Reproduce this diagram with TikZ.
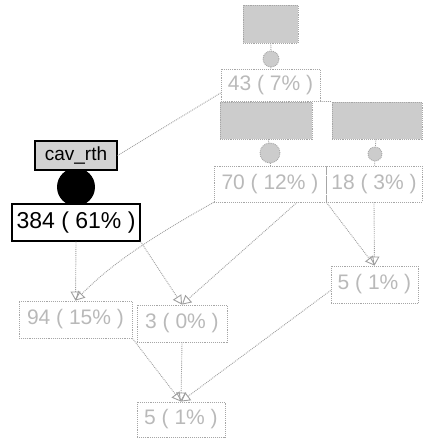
\documentclass[tikz,border=0pt]{standalone}
\usepackage{fontspec}
\setmainfont{Liberation Sans}
\usetikzlibrary{arrows.meta}
\begin{document}
\begin{tikzpicture}[x=1pt,y=-1pt,
  fbox/.style={rectangle, draw=gray!70, densely dotted, line width=0.9pt, inner sep=0pt, text=gray!55, font=\fontsize{21}{23}\selectfont},
  gbox/.style={rectangle, draw=gray!70, densely dotted, line width=0.9pt, fill=gray!40, inner sep=0pt},
  fcirc/.style={circle, draw=gray!70, densely dotted, line width=0.9pt, fill=gray!40, inner sep=0pt},
  fedge/.style={draw=gray!75, densely dotted, line width=0.9pt},
  farr/.style={fedge, -{Triangle[open, length=9pt, width=10pt]}},
  hbox/.style={rectangle, draw=black, line width=1.2pt, inner sep=0pt, text=black},
]
\useasboundingbox (0,0) rectangle (426,440);
% faded upper part
\node[gbox, minimum width=55pt, minimum height=38pt] (T) at (270.5,24) {};
\node[fcirc, minimum size=16pt] (e0) at (271,59) {};
\node[fbox, minimum width=99pt, minimum height=32pt] (B43) at (270.5,85) {43 ( 7\% )};
\node[gbox, minimum width=92pt, minimum height=37pt] (GL) at (266,120.5) {};
\node[gbox, minimum width=90pt, minimum height=37pt] (GR) at (377,120.5) {};
\node[fcirc, minimum size=20pt] (e1) at (270,153) {};
\node[fcirc, minimum size=14pt] (e2) at (375,154) {};
\node[fbox, minimum width=112pt, minimum height=36pt] (B70) at (270,184) {70 ( 12\% )};
\node[fbox, minimum width=96pt, minimum height=36pt] (B18) at (374,184) {18 ( 3\% )};
% highlighted path
\node[circle, fill=black, minimum size=38pt, inner sep=0pt] (blob) at (76,187) {};
\node[hbox, fill=gray!35, minimum width=82pt, minimum height=29pt, font=\fontsize{19}{21}\selectfont] (cav) at (76,155.5) {cav\_rth};
\node[hbox, fill=white, minimum width=128pt, minimum height=37pt, font=\fontsize{23}{25}\selectfont] (B384) at (76,222.5) {384 ( 61\% )};
% faded lower part
\node[fbox, minimum width=113pt, minimum height=37pt] (B94) at (75.5,319.5) {94 ( 15\% )};
\node[fbox, minimum width=90pt, minimum height=37pt] (B3) at (182,323.5) {3 ( 0\% )};
\node[fbox, minimum width=87pt, minimum height=37pt] (BR5) at (374.5,284.5) {5 ( 1\% )};
\node[fbox, minimum width=88pt, minimum height=35pt] (BB5) at (181,419.5) {5 ( 1\% )};
% faded edges
\draw[fedge] (T) -- (e0);
\draw[fedge] (e0) -- (B43);
\draw[fedge] ([yshift=-8pt]B43.west) -- (cav.east);
\draw[fedge] (B43.south east) -- (GR.north west);
\draw[fedge] (GL) -- (e1);
\draw[fedge] (e1) -- (B70);
\draw[fedge] (GR) -- (e2);
\draw[fedge] (e2) -- (B18);
\draw[farr] (B384.south) -- (B94.north);
\draw[farr] (B384.south east) -- (B3.north);
\draw[farr] (B70.south west) .. controls (150,238) and (110,265) .. (B94.north);
\draw[farr] ([xshift=27pt]B70.south) -- (B3.north);
\draw[farr] (B70.south east) -- (BR5.north);
\draw[farr] (B18.south) -- (BR5.north);
\draw[farr] (B94.south east) -- (BB5.north);
\draw[farr] (B3.south) -- (BB5.north);
\draw[farr] ([yshift=-6pt]BR5.west) -- (BB5.north);
\end{tikzpicture}
\end{document}
